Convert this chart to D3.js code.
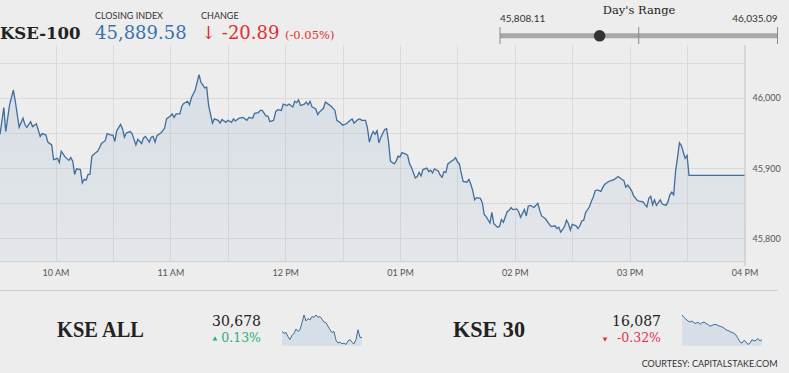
<!DOCTYPE html>
<html>
<head>
<meta charset="utf-8">
<script src="https://cdn.jsdelivr.net/npm/d3@7"></script>
<style>
  body { margin: 0; background: #ededed; }
  svg { display: block; }
  .serif { font-family: "DejaVu Serif", serif; }
  .sans { font-family: Lato, "Noto Sans", sans-serif; }
</style>
</head>
<body>
<svg id="chart" width="789" height="373"></svg>
<script>
// KSE-100 intraday (time, index level)
const times = [
  "09:31","09:33","09:34","09:36","09:38","09:39","09:41","09:43","09:44","09:45","09:47","09:48","09:50","09:52","09:53","09:55","09:56","09:58","09:59",
  "10:01","10:02","10:03","10:05","10:07","10:08","10:09","10:10","10:11","10:13","10:14","10:15","10:16","10:17","10:18","10:19","10:21","10:22","10:23","10:24","10:26","10:27","10:29",
  "10:30","10:31","10:32","10:34","10:35","10:36","10:37","10:39","10:40","10:42","10:43","10:45","10:46","10:47","10:49","10:50","10:51","10:52","10:53","10:55","10:56","10:57","10:58",
  "11:00","11:01","11:02","11:03","11:05","11:06","11:07","11:09","11:10","11:11","11:13","11:15","11:16","11:18","11:19","11:20","11:22","11:23","11:25","11:26","11:27","11:29",
  "11:30","11:32","11:33","11:34","11:36","11:38","11:40","11:41","11:43","11:44","11:46","11:47","11:48","11:50","11:51","11:52","11:54","11:55","11:56","11:58","11:59",
  "12:01","12:02","12:04","12:05","12:06","12:07","12:08","12:10","12:11","12:12","12:13","12:14","12:16","12:17","12:18","12:20","12:21","12:22","12:24","12:26","12:27","12:29",
  "12:30","12:32","12:34","12:35","12:36","12:38","12:39","12:40","12:42","12:43","12:44","12:45","12:46","12:47","12:48","12:49","12:50","12:52","12:53","12:54","12:55","12:57","12:58","12:59",
  "13:00","13:01","13:03","13:04","13:05","13:06","13:08","13:09","13:10","13:11","13:12","13:14","13:15","13:16","13:17","13:18","13:20","13:21","13:22","13:23","13:24","13:25","13:27","13:28","13:29",
  "13:30","13:31","13:32","13:33","13:35","13:36","13:37","13:38","13:39","13:40","13:42","13:43","13:44","13:45","13:47","13:48","13:49","13:51","13:52","13:53","13:54","13:56","13:57","13:58","13:59",
  "14:01","14:02","14:03","14:05","14:06","14:07","14:08","14:10","14:12","14:13","14:14","14:16","14:18","14:19","14:21","14:22","14:23","14:24","14:26","14:27","14:28","14:29",
  "14:30","14:32","14:33","14:34","14:35","14:36","14:37","14:39","14:40","14:41","14:42","14:43","14:45","14:46","14:47","14:49","14:50","14:52","14:54","14:55","14:57","14:58","14:59",
  "15:01","15:02","15:04","15:05","15:07","15:08","15:09","15:10","15:11","15:12","15:13","15:14","15:16","15:17","15:19","15:20","15:21","15:22","15:23","15:24","15:25","15:26","15:27","15:28","15:29",
  "15:30","15:31","16:00"
];
const closes = [
  45948,45986,45952,45990,46011,45995,45958,45971,45962,45958,45966,45959,45963,45945,45949,45947,45937,45933,45912,
  45914,45908,45924,45916,45911,45915,45910,45891,45899,45898,45879,45884,45883,45891,45891,45917,45922,45924,45929,45935,45939,45949,45947,
  45947,45938,45953,45962,45956,45944,45950,45952,45949,45933,45941,45935,45943,45945,45937,45944,45945,45937,45946,45950,45953,45957,45970,
  45974,45977,45972,45977,45977,45988,45992,45995,45990,46000,46011,46033,46022,46014,46015,45989,45964,45970,45968,45964,45969,45965,
  45968,45965,45970,45967,45971,45972,45968,45972,45971,45978,45979,45982,45982,45974,45974,45966,45968,45980,45983,45982,45991,
  45989,45991,45987,45995,45993,45997,45989,45991,45994,45990,45995,45987,45984,45976,45980,45985,45994,45992,45988,45982,45968,45964,
  45961,45963,45968,45970,45964,45969,45970,45968,45968,45957,45937,45946,45952,45948,45953,45936,45944,45955,45956,45938,45910,45906,45910,45917,
  45916,45922,45920,45918,45906,45901,45886,45888,45894,45889,45898,45900,45895,45897,45893,45899,45896,45890,45887,45895,45894,45906,45910,45912,45915,
  45909,45906,45893,45881,45880,45884,45877,45868,45855,45858,45857,45851,45834,45831,45822,45837,45821,45816,45817,45827,45823,45838,45840,45844,45841,
  45842,45838,45830,45841,45832,45846,45847,45844,45850,45840,45832,45828,45820,45817,45818,45814,45816,45809,45817,45826,45821,45812,
  45820,45818,45814,45818,45825,45826,45837,45845,45853,45859,45868,45869,45867,45873,45877,45881,45882,45884,45888,45886,45882,45873,45876,
  45868,45861,45854,45853,45852,45848,45845,45857,45860,45848,45855,45847,45855,45849,45847,45852,45862,45866,45862,45896,45915,45936,45932,45923,45914,
  45918,45889.58,45889.58
];

const closingIndex = 45889.58;
const change = -20.89;
const changePct = -0.05;
const dayLow = 45808.11;
const dayHigh = 46035.09;

// other indices (sparklines, relative levels)
const kseAllClose = 30678;
const kseAllPct = 0.13;
const kseAllSpark = [45,40,42,30,22,34,40,52,45,50,70,92,75,82,78,88,85,92,85,88,80,72,70,60,50,42,45,20,12,15,10,12,8,18,22,14,10,22,50,28,28];
const kse30Close = 16087;
const kse30Pct = -0.32;
const kse30Spark = [92,85,80,75,72,75,70,68,72,65,70,72,68,65,60,62,65,65,62,60,58,55,50,48,45,42,40,35,25,15,12,20,15,8,12,22,18,20,25,18,22];

const fmt = d3.format(",.2f");
const svg = d3.select("#chart");
const parse = d3.timeParse("%H:%M");
const series = times.map((t, i) => ({ date: parse(t), value: closes[i] }));

// plot box
const plotTop = 45, plotBottom = 261.7, plotRight = 744.5;

const x = d3.scaleTime().domain([parse("09:31"), parse("16:00")]).range([0, plotRight]);
const y = d3.scaleLinear().domain([45767, 46075]).range([plotBottom, plotTop]);

const defs = svg.append("defs");
const grad = defs.append("linearGradient").attr("id", "fillGrad")
  .attr("x1", 0).attr("y1", 0).attr("x2", 0).attr("y2", 1);
grad.append("stop").attr("offset", "0%").attr("stop-color", "#9fb8d2").attr("stop-opacity", 0.28);
grad.append("stop").attr("offset", "100%").attr("stop-color", "#9fb8d2").attr("stop-opacity", 0.12);

// grid
const grid = svg.append("g").attr("stroke", "#dadada").attr("stroke-width", 1);
grid.selectAll(".v").data(x.ticks(d3.timeMinute.every(30))).enter().append("line")
  .attr("x1", d => Math.round(x(d)) + 0.5).attr("x2", d => Math.round(x(d)) + 0.5)
  .attr("y1", plotTop).attr("y2", plotBottom);
grid.selectAll(".h").data(y.ticks(6)).enter().append("line")
  .attr("x1", 0).attr("x2", plotRight)
  .attr("y1", d => Math.round(y(d)) + 0.5).attr("y2", d => Math.round(y(d)) + 0.5);
grid.append("line").attr("x1", 0).attr("x2", plotRight + 1).attr("y1", plotBottom).attr("y2", plotBottom).attr("stroke", "#d2d2d2");
grid.append("line").attr("x1", plotRight + 0.5).attr("x2", plotRight + 0.5).attr("y1", plotTop).attr("y2", plotBottom + 4).attr("stroke", "#d6d6d6").attr("stroke-width", 2);

// area + line
const area = d3.area().x(d => x(d.date)).y0(plotBottom).y1(d => y(d.value));
const line = d3.line().x(d => x(d.date)).y(d => y(d.value));
svg.append("path").datum(series).attr("d", area).attr("fill", "url(#fillGrad)");
svg.append("path").datum(series).attr("d", line)
  .attr("fill", "none").attr("stroke", "#3f6e9c").attr("stroke-width", 1.3);

// axes
const xAxis = svg.append("g").attr("class", "sans")
  .attr("transform", "translate(0," + plotBottom + ")")
  .call(d3.axisBottom(x).ticks(d3.timeHour.every(1)).tickFormat(d3.timeFormat("%I %p")).tickSize(0).tickPadding(8));
xAxis.select(".domain").remove();
xAxis.selectAll("text").attr("fill", "#555").attr("font-size", 9).attr("font-family", "Lato, sans-serif");

const yAxis = svg.append("g").attr("class", "sans")
  .attr("transform", "translate(" + (plotRight + 8) + ",0)")
  .call(d3.axisRight(y).ticks(3).tickFormat(d3.format(",")).tickSize(0).tickPadding(0));
yAxis.select(".domain").remove();
yAxis.selectAll("text").attr("fill", "#555").attr("font-size", 9).attr("font-family", "Lato, sans-serif");

// header
svg.append("text").attr("class", "serif").attr("x", 0).attr("y", 39)
  .attr("font-size", 16.5).attr("font-weight", "bold").attr("fill", "#222").text("KSE-100");
svg.append("text").attr("class", "sans").attr("x", 95).attr("y", 19)
  .attr("font-size", 9).attr("fill", "#333").text("CLOSING INDEX");
svg.append("text").attr("class", "serif").attr("x", 95).attr("y", 39)
  .attr("font-size", 18).attr("fill", "#3a72ad").text(fmt(closingIndex));
svg.append("text").attr("class", "sans").attr("x", 201).attr("y", 19)
  .attr("font-size", 9).attr("fill", "#333").text("CHANGE");
svg.append("text").attr("class", "serif").attr("x", 201).attr("y", 39)
  .attr("font-size", 18).attr("fill", "#e0302e").text("\u2193 " + fmt(change).replace("\u2212", "-"));
svg.append("text").attr("class", "serif").attr("x", 285).attr("y", 39)
  .attr("font-size", 11.5).attr("fill", "#e0302e").text("(" + changePct.toFixed(2) + "%)");

// day's range
const r = d3.scaleLinear().domain([dayLow, dayHigh]).range([500, 777.5]);
svg.append("text").attr("class", "serif").attr("x", 639).attr("y", 14)
  .attr("text-anchor", "middle").attr("font-size", 11.5).attr("fill", "#222").text("Day's Range");
svg.append("text").attr("class", "sans").attr("x", r(dayLow)).attr("y", 22)
  .attr("font-size", 10).attr("fill", "#333").text(fmt(dayLow));
svg.append("text").attr("class", "sans").attr("x", r(dayHigh)).attr("y", 22)
  .attr("text-anchor", "end").attr("font-size", 10).attr("fill", "#333").text(fmt(dayHigh));
svg.append("line").attr("x1", r(dayLow)).attr("x2", r(dayHigh)).attr("y1", 35.8).attr("y2", 35.8)
  .attr("stroke", "#a8a8a8").attr("stroke-width", 5);
svg.selectAll(".rtick").data([dayLow, (dayLow + dayHigh) / 2, dayHigh]).enter().append("line")
  .attr("x1", d => r(d)).attr("x2", d => r(d)).attr("y1", 27).attr("y2", 44)
  .attr("stroke", "#8a8a8a").attr("stroke-width", 1);
svg.append("circle").attr("cx", r(closingIndex)).attr("cy", 35.8).attr("r", 5.8).attr("fill", "#333");

// separator
svg.append("line").attr("x1", 0).attr("x2", 778).attr("y1", 290.5).attr("y2", 290.5)
  .attr("stroke", "#cfcfcf").attr("stroke-width", 1);

// lower panels
function panel(name, nameX, nameW, close, pct, spark, valueRight, sparkX) {
  const up = pct >= 0;
  const col = up ? "#2fae74" : "#e2334b";
  svg.append("text").attr("x", nameX).attr("y", 337)
    .attr("font-family", "'Liberation Serif', serif")
    .attr("font-size", 24).attr("font-weight", "bold").attr("fill", "#222")
    .attr("textLength", nameW).attr("lengthAdjust", "spacingAndGlyphs").text(name);
  svg.append("text").attr("class", "serif").attr("x", valueRight).attr("y", 326)
    .attr("text-anchor", "end").attr("font-size", 14).attr("fill", "#222").text(d3.format(",")(close));
  svg.append("text").attr("class", "serif").attr("x", valueRight).attr("y", 342)
    .attr("text-anchor", "end").attr("font-size", 12.5).attr("fill", col)
    .text((up ? "" : "-") + Math.abs(pct).toFixed(2) + "%");
  svg.append("path")
    .attr("d", d3.symbol(d3.symbolTriangle, 10)())
    .attr("transform", "translate(" + (valueRight - (up ? 46 : 56)) + ",339)" + (up ? "" : " rotate(180)"))
    .attr("fill", col);

  const sx = d3.scaleLinear().domain([0, spark.length - 1]).range([sparkX, sparkX + 80]);
  const sy = d3.scaleLinear().domain(d3.extent(spark)).range([344.5, 315]);
  svg.append("path").datum(spark)
    .attr("d", d3.area().x((d, i) => sx(i)).y0(345.8).y1(d => sy(d)))
    .attr("fill", "#d6dee7");
  svg.append("path").datum(spark)
    .attr("d", d3.line().x((d, i) => sx(i)).y(d => sy(d)))
    .attr("fill", "none").attr("stroke", "#3f6e9c").attr("stroke-width", 1);
}
panel("KSE ALL", 57, 87, kseAllClose, kseAllPct, kseAllSpark, 261, 282);
panel("KSE 30", 453, 72, kse30Close, kse30Pct, kse30Spark, 661, 682);

svg.append("text").attr("class", "sans").attr("x", 777.5).attr("y", 366.5)
  .attr("text-anchor", "end").attr("font-size", 9).attr("fill", "#333").text("COURTESY: CAPITALSTAKE.COM");
</script>
</body>
</html>
